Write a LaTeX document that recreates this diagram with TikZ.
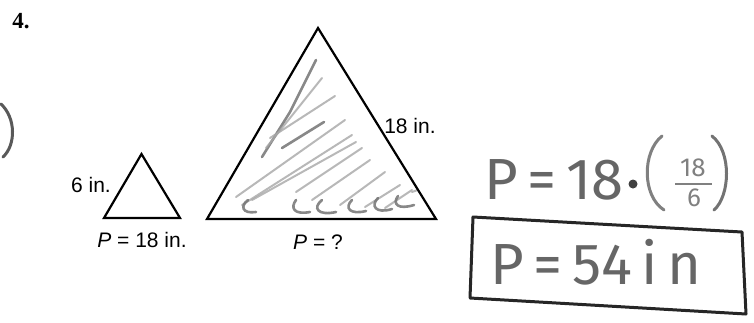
\documentclass[tikz,border=0pt]{standalone}
\usepackage{fontspec}
\setmainfont{Liberation Sans}
\newfontfamily\serifb{Liberation Serif}
\newfontfamily\hand{Fira Sans}
\begin{document}
\begin{tikzpicture}[x=1pt,y=-1pt,
  tri/.style={draw=black,line width=2.2pt,line join=miter},
  lbl/.style={font=\fontsize{21}{24}\selectfont,inner sep=0pt},
  handtxt/.style={font=\hand\fontsize{58}{64}\selectfont,text=black!60,inner sep=0pt},
  handfrac/.style={font=\hand\fontsize{26}{28}\selectfont,text=black!50,inner sep=0pt},
  pencil/.style={draw=black!35,line width=2pt,line cap=round,opacity=0.8},
  pencild/.style={draw=black!55,line width=2.6pt,line cap=round,opacity=0.85}]
\useasboundingbox (0,0) rectangle (754,322);
% problem number
\node[font=\serifb\bfseries\fontsize{23}{24}\selectfont,inner sep=0pt] (num) at (21,21) {4.};
% left handwritten arc
\draw[draw=black!65,line width=3pt,line cap=round] (1,104) .. controls (16,118) and (16,145) .. (3,157);
% small triangle
\coordinate (sa) at (141.5,154);
\coordinate (sl) at (104,218);
\coordinate (sr) at (180,218);
\draw[tri] (sa) -- (sl) -- (sr) -- cycle;
\node[lbl] (s6) at (91,185) {6 in.};
\node[lbl] (sp) at (142,240) {\textit{P} = 18 in.};
% big triangle hatching
\begin{scope}
\clip (318,28) -- (207,219) -- (436,219) -- cycle;
\draw[pencild] (262,157) -- (290,112) -- (316,60);
\draw[pencil] (266,148) -- (322,78);
\draw[pencil] (270,138) -- (335,96);
\draw[pencild] (282,148) -- (324,122);
\draw[pencil] (236,197) -- (345,120);
\draw[pencil] (242,205) -- (352,135);
\draw[pencil] (252,200) -- (356,142);
\draw[pencil] (296,192) -- (362,148);
\draw[pencil] (312,200) -- (370,160);
\draw[pencil] (340,205) -- (385,172);
\draw[pencil] (365,207) -- (400,185);
\draw[pencil] (385,208) -- (412,190);
% bottom squiggles
\draw[pencild] (248,200) .. controls (240,206) and (242,214) .. (256,212);
\draw[pencild] (296,200) .. controls (290,208) and (294,215) .. (310,212);
\draw[pencild] (322,200) .. controls (312,208) and (318,216) .. (336,212);
\draw[pencild] (352,200) .. controls (344,208) and (350,215) .. (366,211);
\draw[pencild] (378,198) .. controls (370,206) and (376,214) .. (392,209);
\draw[pencild] (398,196) .. controls (392,204) and (398,210) .. (414,205);
\draw[pencil] (412,192) -- (432,185);
\end{scope}
% big triangle
\coordinate (ba) at (318,28);
\coordinate (bl) at (207,219);
\coordinate (br) at (436,219);
\draw[tri] (ba) -- (bl) -- (br) -- cycle;
\node[lbl] (b18) at (410,126) {18 in.};
\node[lbl] (bp) at (318,242) {\textit{P} = ?};
% handwritten work
\node[handtxt,anchor=west] (eq1) at (484,180) {P\,=\,18};
\fill[black!75] (633,184) circle (4.5pt);
\draw[draw=black!50,line width=3pt,line cap=round] (662,136) .. controls (642,152) and (642,196) .. (664,210);
\draw[draw=black!55,line width=3pt,line cap=round] (712,136) .. controls (732,152) and (730,196) .. (714,210);
\node[handfrac] (fn) at (693,168) {18};
\node[handfrac] (fd) at (694,198) {6};
\draw[draw=black!50,line width=2.5pt] (675,184) -- (712,184);
% boxed answer
\node[handtxt,anchor=west] (ans) at (490,262) {P\,=\,54\,i\,n};
\draw[draw=black!85,line width=3pt,line join=round]
  (473,217) -- (742,232) -- (746,314) -- (470,298) -- cycle;
\end{tikzpicture}
\end{document}
